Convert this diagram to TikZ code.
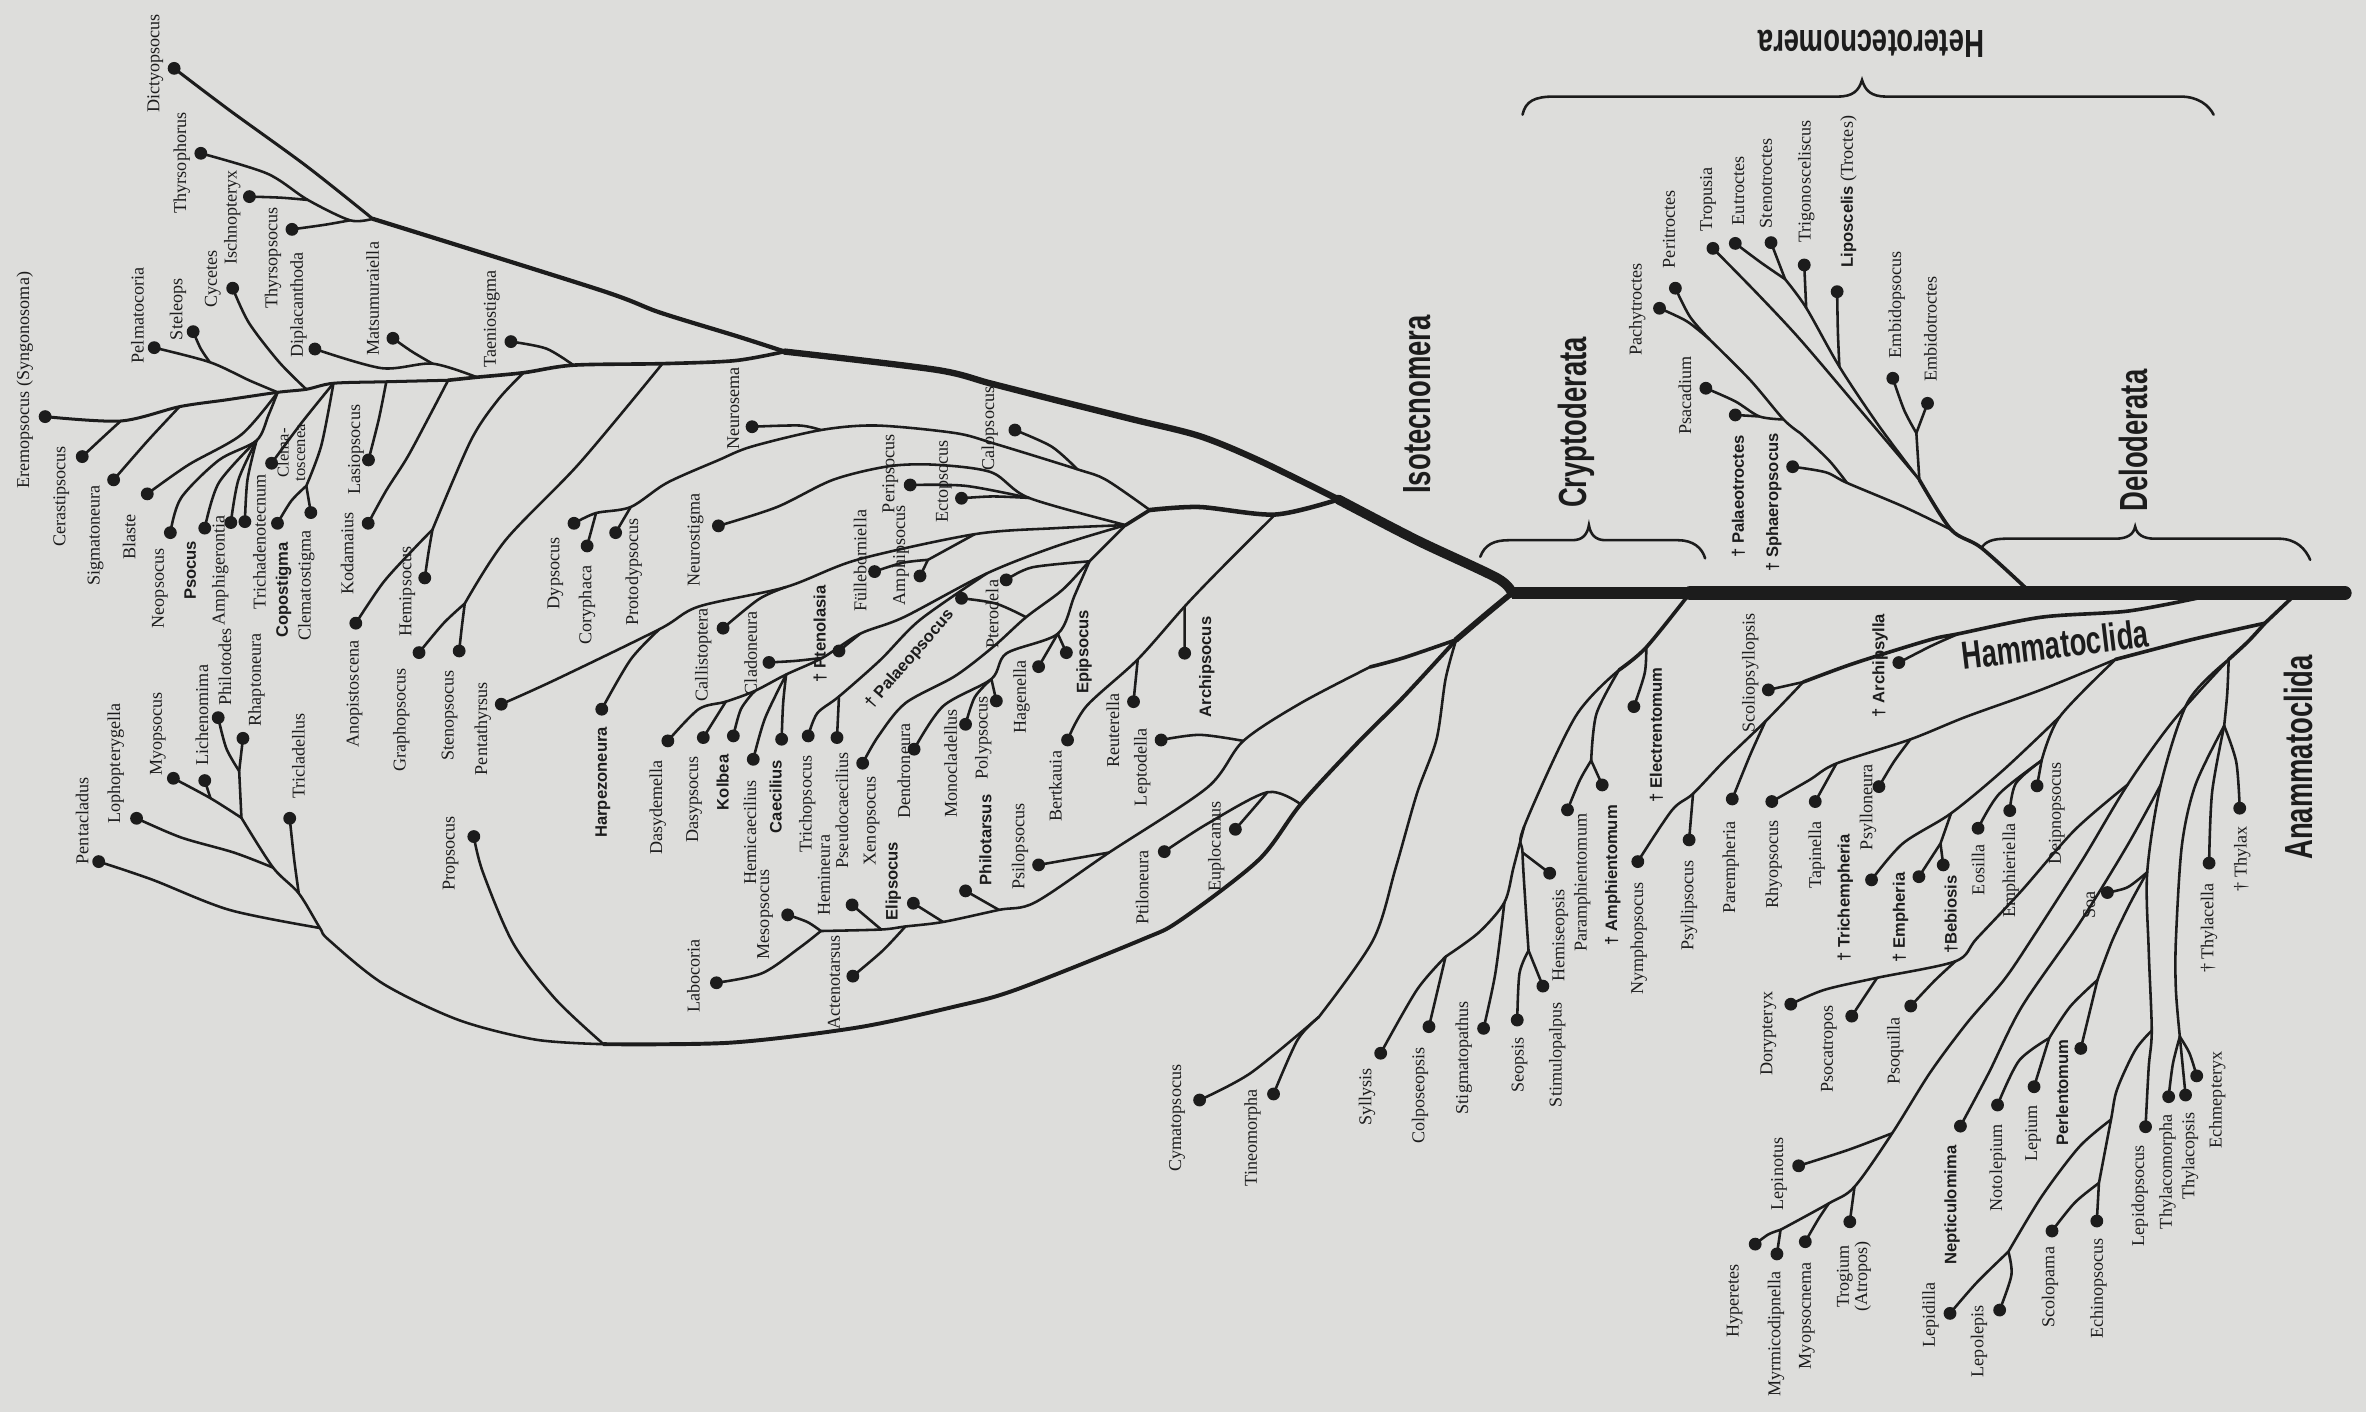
\documentclass[tikz,border=0pt]{standalone}
\usepackage{fontspec}
\setmainfont{Liberation Serif}
\setsansfont{Liberation Sans}
\usetikzlibrary{positioning}
\definecolor{paper}{RGB}{221,221,219}
\definecolor{ink}{RGB}{28,28,28}
\newcommand{\grptxt}[1]{\scalebox{0.7}[1]{#1}}
\tikzset{
    dot/.style={circle,fill=ink,inner sep=0pt,minimum size=8.5pt},
    br/.style={draw=ink,line width=1.7pt,line cap=round,line join=round},
    brm/.style={br,line width=2.4pt},
    lbl/.style={rotate=90,inner sep=0pt,text=ink,align=center,font=\fontsize{12}{12}\selectfont},
    blbl/.style={lbl,font=\sffamily\bfseries\fontsize{11}{12}\selectfont},
    grp/.style={inner sep=0pt,text=ink,font=\sffamily\bfseries\fontsize{26}{26}\selectfont},
    brace/.style={draw=ink,line width=1.7pt,line cap=round}
}
\begin{document}
\begin{tikzpicture}[x=1pt,y=-1pt]
\fill[paper] (0,0) rectangle (1568,936);
\useasboundingbox (0,0) rectangle (1568,936);

\node[dot] (dicty) at (115.4,45.3) {};
\node[lbl] (dictyL) at (103,42) {Dictyopsocus};
\node[dot] (thyrso) at (133.1,101.6) {};
\node[lbl] (thyrsoL) at (120.4,108) {Thyrsophorus};
\node[dot] (ischno) at (165.3,130.3) {};
\node[lbl] (ischnoL) at (154,144) {Ischnopteryx};
\node[dot] (thyrsop) at (193.5,152) {};
\node[lbl] (thyrsopL) at (181,171) {Thyrsopsocus};
\node[dot] (cycet) at (154.2,191) {};
\node[lbl] (cycetL) at (141,185) {Cycetes};
\node[dot] (stele) at (128,219.8) {};
\node[lbl] (steleL) at (118,205) {Steleops};
\node[dot] (pelma) at (102.2,230.4) {};
\node[lbl] (pelmaL) at (91,209) {Pelmatocoria};
\node[dot] (dipla) at (208.7,231.3) {};
\node[lbl] (diplaL) at (197.8,202) {Diplacanthoda};
\node[dot] (matsu) at (260.4,224.2) {};
\node[lbl] (matsuL) at (247,198) {Matsumuraiella};
\node[dot] (taenio) at (338.6,226.4) {};
\node[lbl] (taenioL) at (326,211.5) {Taeniostigma};
\node[dot] (eremo) at (29.9,276.1) {};
\node[lbl] (eremoL) at (16.5,252) {Eremopsocus (Syngonosoma)};
\node[dot] (cerast) at (54.5,302.6) {};
\node[lbl] (cerastL) at (40.6,329) {Cerastipsocus};
\node[dot] (sigma) at (75.3,318) {};
\node[lbl] (sigmaL) at (63.4,355) {Sigmatoneura};
\node[dot] (blaste) at (97.6,327.3) {};
\node[lbl] (blasteL) at (85.6,356) {Blaste};
\node[dot] (neops) at (112.9,353) {};
\node[lbl] (neopsL) at (106,390) {Neopsocus};
\node[dot] (psocus) at (135.7,350) {};
\node[blbl] (psocusL) at (126,378) {Psocus};
\node[dot] (amphig) at (153,346.3) {};
\node[lbl] (amphigL) at (146,378) {Amphigerontia};
\node[dot] (tricha) at (162.3,345.7) {};
\node[lbl] (trichaL) at (172,359) {Trichadenotecnum};
\node[dot] (copost) at (183.9,346.8) {};
\node[blbl] (copostL) at (188,391) {Copostigma};
\node[dot] (clemas) at (180,307) {};
\node[lbl,font=\fontsize{11}{11}\selectfont] (clemasL) at (193,300) {Clema-\\toscenea};
\node[dot] (clemat) at (206,339.7) {};
\node[lbl] (clematL) at (203,388) {Clematostigma};
\node[dot] (kodam) at (244,346.8) {};
\node[lbl] (kodamL) at (230,366.7) {Kodamaius};
\node[dot] (lasio) at (244.2,304.8) {};
\node[lbl] (lasioL) at (236,298) {Lasiopsocus};
\node[dot] (anopi) at (235.8,413) {};
\node[lbl] (anopiL) at (235,460) {Anopistoscena};
\node[dot] (hemip) at (281.5,383) {};
\node[lbl] (hemipL) at (270,392) {Hemipsocus};
\node[dot] (grapho) at (277.7,432.5) {};
\node[lbl] (graphoL) at (266,477) {Graphopsocus};
\node[dot] (steno) at (304.3,431.4) {};
\node[lbl] (stenoL) at (298,474) {Stenopsocus};
\node[dot] (penta) at (332.2,466.7) {};
\node[lbl] (pentaL) at (320,483) {Pentathyrsus};
\node[dot] (dypso) at (380.4,346.8) {};
\node[lbl] (dypsoL) at (368,380) {Dypsocus};
\node[dot] (coryph) at (389.1,361.8) {};
\node[lbl] (coryphL) at (389,401) {Coryphaca};
\node[dot] (protod) at (408,353) {};
\node[lbl] (protodL) at (420,379) {Protodypsocus};
\node[dot] (neurosig) at (476.1,348.5) {};
\node[lbl] (neurosigL) at (461,358) {Neurostigma};
\node[dot] (neurosem) at (498.4,282.8) {};
\node[lbl] (neurosemL) at (486,270.6) {Neurosema};
\node[dot] (calop) at (672.6,285) {};
\node[lbl] (calopL) at (656,284) {Calopsocus};
\node[dot] (perip) at (603.2,321.4) {};
\node[lbl] (peripL) at (590,314) {Peripsocus};
\node[dot] (ectop) at (637.2,330.2) {};
\node[lbl] (ectopL) at (625.5,319) {Ectopsocus};
\node[dot] (fulle) at (579.6,378.8) {};
\node[lbl] (fulleL) at (570,371.6) {Fülleborniella};
\node[dot] (amphip) at (609.7,381.7) {};
\node[lbl] (amphipL) at (597,368) {Amphipsocus};
\node[dot] (harpe) at (398.8,470) {};
\node[blbl] (harpeL) at (399.5,518.5) {Harpezoneura};
\node[dot] (dasyd) at (442.6,491) {};
\node[lbl] (dasydL) at (436,535) {Dasydemella};
\node[dot] (dasyp) at (466.1,488.8) {};
\node[lbl] (dasypL) at (460,530) {Dasypsocus};
\node[dot] (kolbea) at (486,487.7) {};
\node[blbl] (kolbeaL) at (479,518.5) {Kolbea};
\node[dot] (callis) at (479.2,416.3) {};
\node[lbl] (callisL) at (466,434) {Callistoptera};
\node[dot] (clado) at (509.6,439) {};
\node[lbl] (cladoL) at (497.5,433) {Cladoneura};
\node[dot] (hemic) at (499.2,503.2) {};
\node[lbl] (hemicL) at (497,551.7) {Hemicaecilius};
\node[dot] (caeci) at (518,489.9) {};
\node[blbl] (caeciL) at (514,528) {Caecilius};
\node[dot] (mesop) at (522,606.3) {};
\node[lbl] (mesopL) at (507,606) {Mesopsocus};
\node[dot] (ptenol) at (556,431.4) {};
\node[blbl] (ptenolL) at (543.5,420) {† Ptenolasia};
\node[dot] (tricho) at (535.6,487.7) {};
\node[lbl] (trichoL) at (535,533) {Trichopsocus};
\node[dot] (hemin) at (564.7,599.7) {};
\node[lbl] (heminL) at (546,580) {Hemineura};
\node[dot] (pseudo) at (554.7,488.8) {};
\node[lbl] (pseudoL) at (558,537) {Pseudocaecilius};
\node[dot] (xenop) at (571.7,505.8) {};
\node[lbl] (xenopL) at (577.7,544) {Xenopsocus};
\node[dot] (palaeo) at (637.2,396.5) {};
\node[rotate=49,inner sep=0pt,text=ink,font=\sffamily\bfseries\fontsize{11}{12}\selectfont] (palaeoL) at (603,437) {† Palaeopsocus};
\node[dot] (elips) at (605.3,598.6) {};
\node[blbl] (elipsL) at (592,584) {Elipsocus};
\node[dot] (dendro) at (605.8,496.5) {};
\node[lbl] (dendroL) at (599,511) {Dendroneura};
\node[dot] (ptero) at (666.8,384.3) {};
\node[lbl] (pteroL) at (657.5,407) {Pterodela};
\node[dot] (monoc) at (639.9,480) {};
\node[lbl] (monocL) at (630,506) {Monocladellus};
\node[dot] (polyp) at (660.3,464.5) {};
\node[lbl] (polypL) at (651.6,489) {Polypsocus};
\node[dot] (philo) at (639.9,590.4) {};
\node[blbl] (philoL) at (653,556.6) {Philotarsus};
\node[dot] (psilo) at (688.3,573.2) {};
\node[lbl] (psiloL) at (676,561) {Psilopsocus};
\node[dot] (hagen) at (688.3,441.8) {};
\node[lbl] (hagenL) at (677,461.7) {Hagenella};
\node[dot] (epips) at (706.7,432.5) {};
\node[blbl] (epipsL) at (718.5,432) {Epipsocus};
\node[dot] (bertk) at (707.5,490.4) {};
\node[lbl] (bertkL) at (699.5,521) {Bertkauia};
\node[dot] (reute) at (751.2,465) {};
\node[lbl] (reuteL) at (737.5,484) {Reuterella};
\node[dot] (lepto) at (769.5,490.4) {};
\node[lbl] (leptoL) at (757,508.5) {Leptodella};
\node[dot] (ptilo) at (771.6,564.4) {};
\node[lbl] (ptiloL) at (757,588) {Ptiloneura};
\node[dot] (archi) at (785.1,432.9) {};
\node[blbl] (archiL) at (799.8,442) {Archipsocus};
\node[dot] (euplo) at (818.7,549.6) {};
\node[lbl] (euploL) at (806,561) {Euplocamus};
\node[dot] (laboc) at (474.8,651.3) {};
\node[lbl] (labocL) at (459.6,647) {Labocoria};
\node[dot] (acten) at (565.2,646.9) {};
\node[lbl] (actenL) at (552.7,651) {Actenotarsus};
\node[dot] (propso) at (314,554.4) {};
\node[lbl] (propsoL) at (298.6,565.5) {Propsocus};
\node[dot] (pentac) at (65.4,571) {};
\node[lbl] (pentacL) at (54.5,544) {Pentacladus};
\node[dot] (lopho) at (90.5,542.3) {};
\node[lbl] (lophoL) at (76.7,506) {Lophopterygella};
\node[dot] (myops) at (114.9,515.8) {};
\node[lbl] (myopsL) at (104.6,486.5) {Myopsocus};
\node[dot] (liche) at (135.7,517.3) {};
\node[lbl] (licheL) at (133.8,474) {Lichenomima};
\node[dot] (philot) at (144.6,475.6) {};
\node[lbl] (philotL) at (149,442) {Philotodes};
\node[dot] (rhapt) at (161,489.3) {};
\node[lbl] (rhaptL) at (170,450.6) {Rhaptoneura};
\node[dot] (tricl) at (192,542.3) {};
\node[lbl] (triclL) at (197.8,501) {Tricladellus};

\node[dot] (cymat) at (795,729) {};
\node[lbl] (cymatL) at (780,741) {Cymatopsocus};
\node[dot] (tineo) at (844,725) {};
\node[lbl] (tineoL) at (830,754) {Tineomorpha};
\node[dot] (syllys) at (915,698) {};
\node[lbl] (syllysL) at (906,727) {Syllysis};
\node[dot] (colpo) at (947,680.4) {};
\node[lbl] (colpoL) at (941,726) {Colposeopsis};
\node[dot] (stigm) at (983.2,681.5) {};
\node[lbl] (stigmL) at (970,701) {Stigmatopathus};
\node[dot] (seops) at (1005.5,676) {};
\node[lbl] (seopsL) at (1007,706) {Seopsis};
\node[dot] (stimu) at (1022.5,653.5) {};
\node[lbl] (stimuL) at (1032,699) {Stimulopalpus};
\node[dot] (hemis) at (1027,578.7) {};
\node[lbl] (hemisL) at (1034,620) {Hemiseopsis};
\node[dot] (param) at (1038.8,536.7) {};
\node[lbl] (paramL) at (1048.6,585) {Paramphientomum};
\node[dot] (amphi) at (1061.8,520.2) {};
\node[blbl] (amphiL) at (1068.8,580) {† Amphientomum};
\node[dot] (electr) at (1082.8,468.3) {};
\node[blbl] (electrL) at (1097.8,487) {† Electrentomum};
\node[dot] (nympho) at (1085.4,571) {};
\node[lbl] (nymphoL) at (1086,622) {Nymphopsocus};
\node[dot] (psyll) at (1119.4,556.6) {};
\node[lbl] (psyllL) at (1119.3,600) {Psyllipsocus};
\node[dot] (parem) at (1148,529.5) {};
\node[lbl] (paremL) at (1147,575) {Parempheria};
\node[dot] (rhyop) at (1174.2,531.2) {};
\node[lbl] (rhyopL) at (1175.5,573) {Rhyopsocus};
\node[dot] (scolio) at (1171.9,457.2) {};
\node[lbl] (scolioL) at (1160,446) {Scoliopsyllopsis};
\node[dot] (archis) at (1258.4,439.1) {};
\node[blbl] (archisL) at (1246,441) {† Archipsylla};
\node[dot] (tapin) at (1203,531.2) {};
\node[lbl] (tapinL) at (1204,566.5) {Tapinella};
\node[dot] (psyllo) at (1245.2,521.3) {};
\node[lbl] (psylloL) at (1238,535) {Psylloneura};
\node[dot] (triche) at (1240.3,583.1) {};
\node[blbl] (tricheL) at (1223,595) {† Trichempheria};
\node[dot] (emphe) at (1271.7,581) {};
\node[blbl] (empheL) at (1259.5,608) {† Empheria};
\node[dot] (bebio) at (1287.8,573.2) {};
\node[blbl] (bebioL) at (1293,606) {†Bebiosis};
\node[dot] (eosil) at (1310.9,548.9) {};
\node[lbl] (eosilL) at (1311,576.5) {Eosilla};
\node[dot] (emphi) at (1331.9,537.2) {};
\node[lbl] (emphiL) at (1332.5,577) {Emphieriella};
\node[dot] (deipn) at (1350,520.8) {};
\node[lbl] (deipnL) at (1363,539) {Deipnopsocus};
\node[dot] (soa) at (1396.6,591.5) {};
\node[lbl] (soaL) at (1384.6,600) {Soa};
\node[dot] (thylax) at (1484.3,535.6) {};
\node[lbl] (thylaxL) at (1486,569) {† Thylax};
\node[dot] (thylac) at (1464,572) {};
\node[lbl] (thylacL) at (1464,615) {† Thylacella};
\node[dot] (dory) at (1186.8,665.5) {};
\node[lbl] (doryL) at (1172,685) {Dorypteryx};
\node[dot] (psocat) at (1227.2,673.4) {};
\node[lbl] (psocatL) at (1212,695) {Psocatropos};
\node[dot] (psoqu) at (1266.3,666.7) {};
\node[lbl] (psoquL) at (1256,696.5) {Psoquilla};
\node[dot] (lepin) at (1192,772.6) {};
\node[lbl] (lepinL) at (1179,778) {Lepinotus};
\node[dot] (hyper) at (1163.2,824.5) {};
\node[lbl] (hyperL) at (1149.5,862) {Hyperetes};
\node[dot] (myrmi) at (1177.6,831) {};
\node[lbl] (myrmiL) at (1177,884) {Myrmicodipnella};
\node[dot] (myopsn) at (1196.4,822.9) {};
\node[lbl] (myopsnL) at (1197.5,872) {Myopsocnema};
\node[dot] (trogi) at (1225.9,809.7) {};
\node[lbl] (trogiL) at (1228.6,846) {Trogium\\(Atropos)};
\node[dot] (lepidi) at (1292.3,870.4) {};
\node[lbl] (lepidiL) at (1279.3,871.5) {Lepidilla};
\node[dot] (lepol) at (1325.2,868.2) {};
\node[lbl] (lepolL) at (1311.5,889) {Lepolepis};
\node[dot] (neptic) at (1299.2,746.3) {};
\node[blbl] (nepticL) at (1293.6,798.6) {Nepticulomima};
\node[dot] (notol) at (1323.8,732.3) {};
\node[lbl] (notolL) at (1324,774) {Notolepium};
\node[dot] (lepium) at (1348,720.2) {};
\node[lbl] (lepiumL) at (1347.4,751) {Lepium};
\node[dot] (perle) at (1379,694.8) {};
\node[blbl] (perleL) at (1366.7,724) {Perlentomum};
\node[dot] (scolo) at (1359.9,815.8) {};
\node[lbl] (scoloL) at (1358.5,853) {Scolopama};
\node[dot] (echin) at (1389.6,809.2) {};
\node[lbl] (echinL) at (1390.7,854) {Echinopsocus};
\node[dot] (lepid) at (1421.9,746.7) {};
\node[lbl] (lepidL) at (1418,792.5) {Lepidopsocus};
\node[dot] (thylm) at (1437.2,726.8) {};
\node[lbl] (thylmL) at (1436.5,776.5) {Thylacomorpha};
\node[dot] (thylp) at (1448.4,725.7) {};
\node[lbl] (thylpL) at (1451.4,766) {Thylacopsis};
\node[dot] (echme) at (1455.8,713) {};
\node[lbl] (echmeL) at (1469.5,729) {Echmepteryx};

\node[dot] (pachy) at (1099.8,204.3) {};
\node[lbl] (pachyL) at (1085,205) {Pachytroctes};
\node[dot] (perit) at (1110.3,191) {};
\node[lbl] (peritL) at (1106,152) {Peritroctes};
\node[dot] (tropu) at (1135.2,164.6) {};
\node[lbl] (tropuL) at (1132,132) {Tropusia};
\node[dot] (eutro) at (1150,161.3) {};
\node[lbl] (eutroL) at (1152,126.5) {Eutroctes};
\node[dot] (stenot) at (1173.7,160.8) {};
\node[lbl] (stenotL) at (1170.4,121.5) {Stenotroctes};
\node[dot] (trigo) at (1195.7,175.6) {};
\node[lbl] (trigoL) at (1197,120.4) {Trigonosceliscus};
\node[dot] (lipos) at (1217.5,193.3) {};
\node[lbl] (liposL) at (1225,127) {{\sffamily\bfseries\fontsize{11}{12}\selectfont Liposcelis} (Troctes)};
\node[dot] (embip) at (1254.4,250.7) {};
\node[lbl] (embipL) at (1257,202) {Embidopsocus};
\node[dot] (embit) at (1277.4,267.3) {};
\node[lbl] (embitL) at (1279.3,218) {Embidotroctes};
\node[dot] (psaca) at (1130.5,257.3) {};
\node[lbl] (psacaL) at (1116.6,262) {Psacadium};
\node[dot] (palaeot) at (1150,275) {};
\node[blbl] (palaeotL) at (1152,329) {† Palaeotroctes};
\node[dot] (sphae) at (1188,309.3) {};
\node[blbl] (sphaeL) at (1175.6,333) {† Sphaeropsocus};

\coordinate (f0) at (1002,393);
\coordinate (tend) at (1554,393);
\coordinate (jiso) at (887,331);
\coordinate (jr) at (520,233);
\coordinate (jthy) at (247,145);
\coordinate (jisch) at (204,132.5);
\coordinate (jthys) at (232,146);
\coordinate (jdy) at (439,241);
\coordinate (jtae) at (380,242);
\coordinate (jhem) at (347,247);
\coordinate (jdip) at (316,250);
\coordinate (jmat) at (286.6,241);
\coordinate (jkod) at (297,252);
\coordinate (jlas) at (256,253);
\coordinate (jcle) at (221,254);
\coordinate (jcyc) at (203,258);
\coordinate (jpel) at (184,260);
\coordinate (jste) at (139,240);
\coordinate (jsig) at (119,269.5);
\coordinate (jere) at (80,279);
\coordinate (jpg) at (170,292);
\coordinate (jcc) at (203,322);
\coordinate (jah) at (286.6,351);
\coordinate (jgs) at (308,400);
\coordinate (jdyp) at (395,340);
\coordinate (jpro) at (418,336);
\coordinate (jnse) at (544,285);
\coordinate (jcal) at (714,311);
\coordinate (ja) at (762,338);
\coordinate (jar0) at (845,341);
\coordinate (jar) at (785,402);
\coordinate (jre) at (754,437);
\coordinate (jb1) at (746,348);
\coordinate (jpe) at (682,330);
\coordinate (jhar) at (437,417);
\coordinate (jcal2) at (521,389);
\coordinate (jfu) at (646,354);
\coordinate (jfa) at (615,371);
\coordinate (jdk) at (481,465);
\coordinate (jkc) at (500,458);
\coordinate (jhc) at (521,447);
\coordinate (jcl) at (545,436);
\coordinate (jpt) at (570,420);
\coordinate (jq) at (654,380);
\coordinate (jtp) at (556,461.6);
\coordinate (jxp) at (680,409);
\coordinate (jxh) at (722,372);
\coordinate (jmp) at (667,433);
\coordinate (jmp0) at (657,450);
\coordinate (jhe) at (701,420);
\coordinate (jb) at (965,424);
\coordinate (jm) at (908,442);
\coordinate (jle) at (824,491);
\coordinate (jps) at (735,565);
\coordinate (jph) at (662,603);
\coordinate (jel) at (625,611);
\coordinate (jac) at (600,614);
\coordinate (jhm) at (584,616);
\coordinate (jme) at (544,617);
\coordinate (jeo) at (862,533);
\coordinate (jeu) at (840,525);
\coordinate (jo) at (400,692);
\coordinate (jcy) at (874,674);
\coordinate (jpc) at (212,615);
\coordinate (jtc) at (198,592);
\coordinate (jlo) at (181,575);
\coordinate (jmy) at (160,542);
\coordinate (jli) at (139.5,529);
\coordinate (jrp) at (158.5,511);
\coordinate (k0) at (1120,393);
\coordinate (k1) at (1091,429);
\coordinate (k2) at (1073,444);
\coordinate (jam) at (1054.5,504);
\coordinate (jhsa) at (1010,548);
\coordinate (jhe2) at (1009,565);
\coordinate (jss) at (1013,630);
\coordinate (jst) at (997,598);
\coordinate (jsc) at (958,634);
\coordinate (hm0) at (1458,396);
\coordinate (jarc) at (1298,420);
\coordinate (jsco) at (1195,452);
\coordinate (jpar) at (1170,478);
\coordinate (jpsy) at (1122,526);
\coordinate (tr2) at (1519,396);
\coordinate (ja0) at (1501,413);
\coordinate (jha) at (1402,437);
\coordinate (jpl) at (1266,490);
\coordinate (jtap) at (1217,506);
\coordinate (jrh) at (1199,517);
\coordinate (jdb) at (1365,475);
\coordinate (jdei) at (1353,504);
\coordinate (jtb) at (1293,539);
\coordinate (jbe) at (1286,559);
\coordinate (jana) at (1477,437);
\coordinate (jthx) at (1474,481);
\coordinate (jtm) at (1444.6,687);
\coordinate (jsl) at (1423,578);
\coordinate (jlp) at (1426,683);
\coordinate (jl2) at (1432,520);
\coordinate (jec) at (1391,784);
\coordinate (jel2) at (1399,742);
\coordinate (jll) at (1331,829.5);
\coordinate (jnl) at (1358,688);
\coordinate (jpn) at (1390,649.5);
\coordinate (jt0) at (1180,815);
\coordinate (jmyo) at (1212,797.5);
\coordinate (jtro) at (1229,786.5);
\coordinate (jlpn) at (1254,751);
\coordinate (jtn) at (1410,520);
\coordinate (jpsc) at (1244,648);
\coordinate (jpsq) at (1296,637);
\coordinate (ht0) at (1345,392);
\coordinate (jh1) at (1293,351);
\coordinate (jh2) at (1272,318);
\coordinate (js1) at (1224,320);
\coordinate (jg) at (1193,287);
\coordinate (jpp) at (1133,225);
\coordinate (jgps) at (1182,278);
\coordinate (jpsp) at (1166,276);
\coordinate (jem) at (1270,287);
\coordinate (jlip) at (1219,243);
\coordinate (jtg) at (1197,204);
\coordinate (jes) at (1183,185);

\draw[ink,line width=7.5pt] (f0) -- (k0);
\draw[ink,line width=9pt,line cap=round] (k0) -- (tend);
\draw[br,line width=6.5pt] plot[smooth] coordinates {(f0) (992,383) (939,358) (jiso)};
\draw[br,line width=4.2pt] plot[smooth] coordinates {(jiso) (834,305) (795,289) (751,278) (699,265) (656,254) (620,245) (jr)};
\draw[br,line width=2.8pt] plot[smooth] coordinates {(jr) (489,223) (437,207) (397,192) (jthy)};
\draw[br,line width=2pt] plot[smooth] coordinates {(jthy) (203,110) (152,73) (dicty.center)};
\draw[br] plot[smooth] coordinates {(thyrso.center) (177,115) (jisch) (jthys) (jthy)};
\draw[br] plot[smooth] coordinates {(ischno.center) (186,131) (jisch)};
\draw[br] plot[smooth] coordinates {(thyrsop.center) (215,149) (jthys)};

\draw[brm] plot[smooth] coordinates {(jr) (487,239) (jdy) (jtae) (jhem) (jdip) (jkod)};
\draw[br,line width=2pt] plot[smooth] coordinates {(jkod) (jlas) (jcle) (jcyc) (jpel) (150,265) (jsig) (jere) (eremo.center)};
\draw[br] plot[smooth] coordinates {(taenio.center) (362,231) (jtae)};
\draw[br] plot[smooth] coordinates {(dipla.center) (253,244) (jmat) (jdip)};
\draw[br] plot[smooth] coordinates {(matsu.center) (273,233) (jmat)};
\draw[br] plot[smooth] coordinates {(cycet.center) (165,214) (185,240) (jcyc)};
\draw[br] plot[smooth] coordinates {(pelma.center) (jste) (165,252) (jpel)};
\draw[br] plot[smooth] coordinates {(stele.center) (133,231) (jste)};
\draw[br] plot[smooth] coordinates {(cerast.center) (68,290) (jere)};
\draw[br] plot[smooth] coordinates {(sigma.center) (98,292) (jsig)};
\draw[br] plot[smooth] coordinates {(blaste.center) (125,308) (160,288) (jpel)};
\draw[br] plot[smooth] coordinates {(neops.center) (120,330) (145,305) (jpg) (178,275) (jpel)};
\draw[br] plot[smooth] coordinates {(psocus.center) (145,320) (jpg)};
\draw[br] plot[smooth] coordinates {(amphig.center) (158,318) (jpg)};
\draw[br] plot[smooth] coordinates {(tricha.center) (164,318) (jpg)};
\draw[br] plot[smooth] coordinates {(clemas.center) (200,280) (jcle)};
\draw[br] plot[smooth] coordinates {(copost.center) (193,332) (jcc)};
\draw[br] (clemat.center) -- (jcc);
\draw[br] plot[smooth] coordinates {(jcc) (213,295) (jcle)};
\draw[br] plot[smooth] coordinates {(lasio.center) (251,278) (jlas)};
\draw[br] plot[smooth] coordinates {(kodam.center) (256,325) (270,303) (285,275) (jkod)};
\draw[br] plot[smooth] coordinates {(anopi.center) (254,386) (274,364) (jah)};
\draw[br] plot[smooth] coordinates {(hemip.center) (284,366) (jah)};
\draw[br] plot[smooth] coordinates {(jah) (312,292) (330,265) (jhem)};
\draw[br] plot[smooth] coordinates {(grapho.center) (294,413) (jgs)};
\draw[br] plot[smooth] coordinates {(steno.center) (306,416) (jgs)};
\draw[br] plot[smooth] coordinates {(jgs) (335,358) (384,307) (jdy)};

\draw[br] plot[smooth] coordinates {(dypso.center) (jdyp) (jpro) (442,320) (476,305) (498,296) (jnse) (581,282) (633,287) (659,294) (jcal) (733,318) (ja)};
\draw[br] (coryph.center) -- (jdyp);
\draw[br] (protod.center) -- (jpro);
\draw[br] plot[smooth] coordinates {(neurosem.center) (530,282) (jnse)};
\draw[br] plot[smooth] coordinates {(calop.center) (697,296) (jcal)};
\draw[brm] (jb1) -- (ja);
\draw[br,line width=3pt] plot[smooth] coordinates {(ja) (795,336) (jar0) (jiso)};
\draw[br] plot[smooth] coordinates {(jar0) (808,378) (jar) (jre) (720,468) (bertk.center)};
\draw[br] (archi.center) -- (jar);
\draw[br] (reute.center) -- (jre);
\draw[br] plot[smooth] coordinates {(neurosig.center) (515,336) (552,318) (589,309) (620,308) (657,313) (jpe) (jb1)};
\draw[br] plot[smooth] coordinates {(perip.center) (640,322) (jpe)};
\draw[br] plot[smooth] coordinates {(ectop.center) (658,329) (jpe)};
\draw[br] plot[smooth] coordinates {(penta.center) (367,451) (jhar) (463,402) (jcal2) (568,371) (jfu) (700,350) (jb1)};
\draw[br] plot[smooth] coordinates {(harpe.center) (418,437) (jhar)};
\draw[br] plot[smooth] coordinates {(callis.center) (503,397) (jcal2)};
\draw[br] plot[smooth] coordinates {(fulle.center) (598,373) (jfa)};
\draw[br] (amphip.center) -- (jfa);
\draw[br] (jfa) -- (jfu);
\draw[br] plot[smooth] coordinates {(dasyd.center) (463,470) (jdk) (jkc) (jhc) (jcl) (jpt) (599,409) (jq) (700,362) (jb1)};
\draw[br] (dasyp.center) -- (jdk);
\draw[br] plot[smooth] coordinates {(kolbea.center) (491,470) (jkc)};
\draw[br] plot[smooth] coordinates {(hemic.center) (507,476) (jhc)};
\draw[br] plot[smooth] coordinates {(caeci.center) (519,466) (jhc)};
\draw[br] plot[smooth] coordinates {(clado.center) (527,438) (jcl)};
\draw[br] (ptenol.center) -- (jpt);
\draw[br] plot[smooth] coordinates {(tricho.center) (541.6,472.7) (jtp) (583.5,437.3) (609.7,410.8) (jq)};
\draw[br] (pseudo.center) -- (jtp);
\draw[br] plot[smooth] coordinates {(xenop.center) (582,488) (600,466) (633,448) (659,428) (jxp) (704,391) (jxh) (jb1)};
\draw[br] plot[smooth] coordinates {(palaeo.center) (660,400) (jxp)};
\draw[br] plot[smooth] coordinates {(ptero.center) (684,376) (jxh)};
\draw[br] plot[smooth] coordinates {(dendro.center) (625,468) (jmp0) (jmp) (jhe) (712,395) (jxh)};
\draw[br] plot[smooth] coordinates {(monoc.center) (646,462) (jmp0)};
\draw[br] (polyp.center) -- (jmp0);
\draw[br] (hagen.center) -- (jhe);
\draw[br] (epips.center) -- (jhe);

\draw[br,line width=3.8pt] plot[smooth] coordinates {(f0) (985,407) (jb)};
\draw[brm] plot[smooth] coordinates {(jb) (930,436) (jm)};
\draw[br] plot[smooth] coordinates {(jm) (862,466) (jle) (800,522) (jps) (686,598) (jph) (jel) (jac) (jhm) (jme)};
\draw[br] plot[smooth] coordinates {(lepto.center) (795,487) (jle)};
\draw[br] plot[smooth] coordinates {(psilo.center) (712,569) (jps)};
\draw[br] (philo.center) -- (jph);
\draw[br] (elips.center) -- (jel);
\draw[br] plot[smooth] coordinates {(acten.center) (585,630) (jac)};
\draw[br] (hemin.center) -- (jhm);
\draw[br] plot[smooth] coordinates {(mesop.center) (535,611) (jme)};
\draw[br] plot[smooth] coordinates {(laboc.center) (505,645) (530,628) (jme)};
\draw[br,line width=2.6pt] plot[smooth] coordinates {(jb) (930,462) (900,492) (jeo) (834,570) (782,610) (756,623) (673,656) (633,667) (568,681) (484,691) (jo)};
\draw[br] plot[smooth] coordinates {(ptilo.center) (800,546) (jeu) (jeo)};
\draw[br] (euplo.center) -- (jeu);
\draw[br] plot[smooth] coordinates {(jb) (958,450) (952,490) (939,526) (925,575) (910,623) (jcy)};
\draw[br] plot[smooth] coordinates {(cymat.center) (829,711) (jcy)};
\draw[br] plot[smooth] coordinates {(tineo.center) (860,689) (jcy)};
\draw[br] plot[smooth] coordinates {(jo) (355,689) (304,676) (254,652) (218,623) (jpc) (jtc) (jlo) (jmy)};
\draw[br] (jmy) -- (jrp);
\draw[br] plot[smooth] coordinates {(pentac.center) (101,583) (152,603) (jpc)};
\draw[br] plot[smooth] coordinates {(lopho.center) (120,555) (155,565) (jlo)};
\draw[br] plot[smooth] coordinates {(myops.center) (jli) (jmy)};
\draw[br] (liche.center) -- (jli);
\draw[br] plot[smooth] coordinates {(philot.center) (150,496) (jrp)};
\draw[br] (rhapt.center) -- (jrp);
\draw[br] plot[smooth] coordinates {(tricl.center) (195,570) (jtc)};
\draw[br] plot[smooth] coordinates {(propso.center) (320,578) (340,625) (368,662) (jo)};

\draw[brm] plot[smooth] coordinates {(k0) (k1) (k2)};
\draw[br] plot[smooth] coordinates {(electr.center) (1090,446) (k1)};
\draw[br] plot[smooth] coordinates {(k2) (1058,473) (jam)};
\draw[br] (amphi.center) -- (jam);
\draw[br] plot[smooth] coordinates {(param.center) (1047,517) (jam)};
\draw[br] plot[smooth] coordinates {(k2) (1044,475) (jhsa) (jhe2) (1011,600) (jss)};
\draw[br] (hemis.center) -- (jhe2);
\draw[br] (stimu.center) -- (jss);
\draw[br] plot[smooth] coordinates {(seops.center) (1007,645) (jss)};
\draw[br] plot[smooth] coordinates {(jhsa) (1003,575) (jst) (980,618) (jsc)};
\draw[br] plot[smooth] coordinates {(stigm.center) (991,645) (jst)};
\draw[br] (colpo.center) -- (jsc);
\draw[br] plot[smooth] coordinates {(syllys.center) (939,656) (jsc)};

\draw[brm] plot[smooth] coordinates {(hm0) (1410,405) (1353,409) (jarc) (1279,424) (1229,439.5) (jsco)};
\draw[br] plot[smooth] coordinates {(jsco) (jpar) (1143,504) (jpsy) (1108,537) (nympho.center)};
\draw[br] plot[smooth] coordinates {(archis.center) (1280,428) (jarc)};
\draw[br] (scolio.center) -- (jsco);
\draw[br] plot[smooth] coordinates {(parem.center) (1160,500) (jpar)};
\draw[br] (psyll.center) -- (jpsy);
\draw[brm] (tr2) -- (ja0);
\draw[brm] plot[smooth] coordinates {(ja0) (1452,424) (jha)};
\draw[br] plot[smooth] coordinates {(jha) (1353,457) (1303,475) (jpl) (jtap) (jrh) (rhyop.center)};
\draw[br] plot[smooth] coordinates {(psyllo.center) (1255,505) (jpl)};
\draw[br] (tapin.center) -- (jtap);
\draw[br] plot[smooth] coordinates {(jha) (jdb) (jdei)};
\draw[br] (deipn.center) -- (jdei);
\draw[br] plot[smooth] coordinates {(emphi.center) (1336,519) (jdei)};
\draw[br] plot[smooth] coordinates {(eosil.center) (1325,526) (jdei)};
\draw[br] plot[smooth] coordinates {(jdb) (1328,510) (jtb) (1261,559) (triche.center)};
\draw[br] (bebio.center) -- (jbe) -- (jtb);
\draw[br] (emphe.center) -- (jbe);
\draw[brm] plot[smooth] coordinates {(ja0) (1490,425) (jana)};
\draw[br] plot[smooth] coordinates {(jana) (1476,460) (jthx)};
\draw[br] plot[smooth] coordinates {(thylax.center) (1482,505) (jthx)};
\draw[br] plot[smooth] coordinates {(thylac.center) (1466,525) (jthx)};
\draw[br] plot[smooth] coordinates {(jthx) (1455,520) (1446,560) (1442,623) (1442,656) (jtm)};
\draw[br] plot[smooth] coordinates {(thylm.center) (1440,705) (jtm)};
\draw[br] (thylp.center) -- (jtm);
\draw[br] plot[smooth] coordinates {(echme.center) (1451,698) (jtm)};
\draw[br] plot[smooth] coordinates {(jana) (1450,465) (jl2) (jsl) (1424,630) (jlp) (1424,707) (lepid.center)};
\draw[br] plot[smooth] coordinates {(soa.center) (1410,588) (jsl)};
\draw[br] plot[smooth] coordinates {(jec) (jel2) (1403,722) (1415,696) (jlp)};
\draw[br] plot[smooth] coordinates {(scolo.center) (1375,797) (jec)};
\draw[br] (echin.center) -- (jec);
\draw[br] plot[smooth] coordinates {(jll) (1353,793) (1378,760) (jel2)};
\draw[br] plot[smooth] coordinates {(lepidi.center) (1310,850) (jll)};
\draw[br] plot[smooth] coordinates {(lepol.center) (1333,845) (jll)};
\draw[br] plot[smooth] coordinates {(notol.center) (1338,703) (jnl)};
\draw[br] (lepium.center) -- (jnl);
\draw[br] plot[smooth] coordinates {(jnl) (1372,667) (jpn)};
\draw[br] (perle.center) -- (jpn);
\draw[br] plot[smooth] coordinates {(jpn) (1400,623) (1412,598) (jsl)};
\draw[br] plot[smooth] coordinates {(neptic.center) (1318,711) (1340,667) (1378,612) (1410,560) (jl2)};
\draw[br] plot[smooth] coordinates {(jt0) (jmyo) (jtro) (jlpn) (1279,711) (1303.5,678) (1328,649.5) (1346,623) (1380,570) (jtn) (1440,478) (jana)};
\draw[br] plot[smooth] coordinates {(hyper.center) (1172,818) (jt0)};
\draw[br] (myrmi.center) -- (jt0);
\draw[br] plot[smooth] coordinates {(myopsn.center) (1205,808) (jmyo)};
\draw[br] (trogi.center) -- (jtro);
\draw[br] plot[smooth] coordinates {(lepin.center) (1225,762) (jlpn)};
\draw[br] plot[smooth] coordinates {(dory.center) (1209,656) (jpsc) (jpsq) (1310,622) (1340,590) (1375,550) (jtn)};
\draw[br] plot[smooth] coordinates {(psocat.center) (1236,660) (jpsc)};
\draw[br] plot[smooth] coordinates {(psoqu.center) (1282,650) (jpsq)};

\draw[brm] plot[smooth] coordinates {(ht0) (1313,363) (jh1) (jh2)};
\draw[br] plot[smooth] coordinates {(sphae.center) (1210,313) (js1) (1262,336) (jh1)};
\draw[br] plot[smooth] coordinates {(jg) (1212,305) (js1)};
\draw[br] plot[smooth] coordinates {(pachy.center) (1118,213) (jpp)};
\draw[br] plot[smooth] coordinates {(perit.center) (1120,210) (jpp)};
\draw[br] plot[smooth] coordinates {(jpp) (1160,252) (jgps) (jg)};
\draw[br] plot[smooth] coordinates {(psaca.center) (1150,266) (jpsp) (jgps)};
\draw[br] (palaeot.center) -- (jpsp);
\draw[br] plot[smooth] coordinates {(embip.center) (1262,272) (jem)};
\draw[br] (embit.center) -- (jem);
\draw[br] (jem) -- (jh2);
\draw[br] plot[smooth] coordinates {(jh2) (1245,282) (jlip) (jtg) (jes)};
\draw[br] plot[smooth] coordinates {(eutro.center) (1167,174) (jes)};
\draw[br] (stenot.center) -- (jes);
\draw[br] (trigo.center) -- (jtg);
\draw[br] plot[smooth] coordinates {(lipos.center) (1218,220) (jlip)};
\draw[br] plot[smooth] coordinates {(tropu.center) (1165,195) (1193,225) (1233,272) (jh2)};

\draw[brace] (1009,76) .. controls (1011,67) and (1017,64) .. (1030,64) -- (1218,64) .. controls (1228,64) and (1232,60) .. (1234,53) .. controls (1236,60) and (1240,64) .. (1250,64) -- (1445,64) .. controls (1457,64) and (1464,70) .. (1467,76);
\draw[brace] (981,369) .. controls (984,361) and (990,358) .. (1000,358) -- (1042,358) .. controls (1049,358) and (1052,354) .. (1053,348) .. controls (1054,354) and (1057,358) .. (1064,358) -- (1112,358) .. controls (1122,358) and (1128,363) .. (1130,370);
\draw[brace] (1313,363) .. controls (1316,359) and (1320,357) .. (1330,357) -- (1402,357) .. controls (1410,357) and (1414,354) .. (1415,349) .. controls (1416,354) and (1420,357) .. (1428,357) -- (1510,357) .. controls (1522,357) and (1528,364) .. (1531,371);

\node[grp,rotate=90] (isoT) at (939,268) {\grptxt{Isotecnomera}};
\node[grp,rotate=90] (cryT) at (1045,280) {\grptxt{Cryptoderata}};
\node[grp,rotate=90] (delT) at (1414,292) {\grptxt{Deloderata}};
\node[grp,rotate=180] (hetT) at (1240,29) {\grptxt{Heterotecnomera}};
\node[grp,rotate=6.8] (hamT) at (1362,427) {\grptxt{Hammatoclida}};
\node[grp,rotate=90] (anaT) at (1523,502) {\grptxt{Anammatoclida}};
\end{tikzpicture}
\end{document}
